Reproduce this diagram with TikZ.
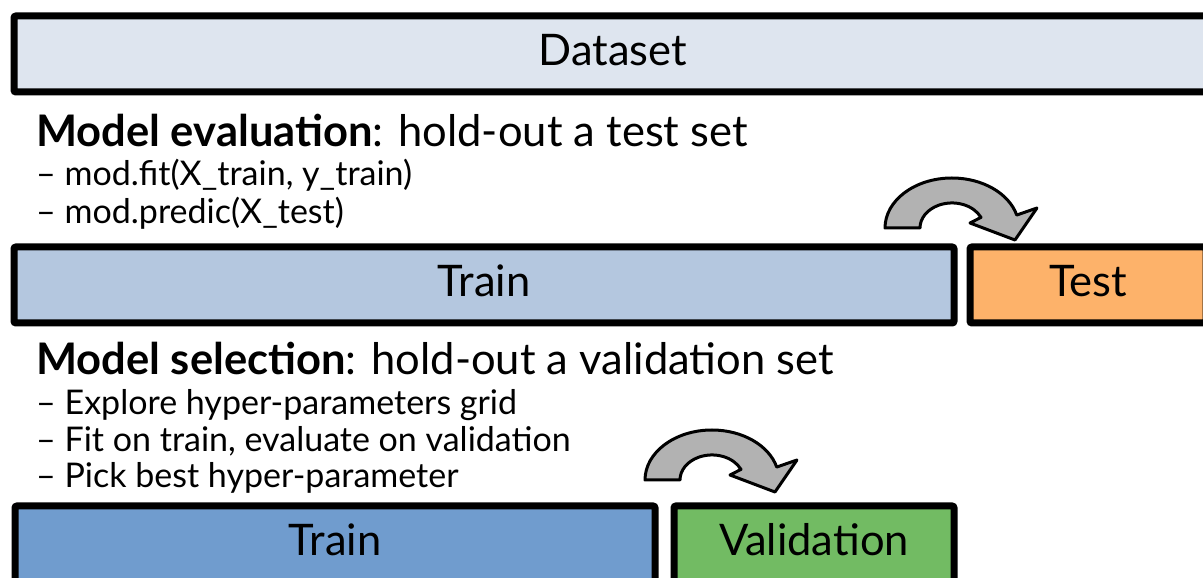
\documentclass[tikz,border=0pt]{standalone}
\usepackage{fontspec}
\setmainfont{Lato}
\definecolor{datafill}{HTML}{DEE5EF}
\definecolor{trainfill}{HTML}{B4C7DF}
\definecolor{testfill}{HTML}{FDB26A}
\definecolor{fitfill}{HTML}{709CCE}
\definecolor{valfill}{HTML}{72BB63}
\definecolor{hopfill}{HTML}{B2B2B2}
\begin{document}
\begin{tikzpicture}[x=1pt,y=1pt,
  part/.style={draw=black,line width=7pt,rounded corners=2pt,minimum height=76pt,inner sep=0pt,
    text height=31pt,text depth=8pt,font=\fontsize{43.5}{43.5}\selectfont},
  head/.style={anchor=base west,inner sep=0pt,font=\fontsize{43.5}{43.5}\selectfont},
  item/.style={anchor=base west,inner sep=0pt,font=\fontsize{34}{34}\selectfont},
  hop/.style={draw=black,line width=3pt,fill=hopfill,line join=round}]
\useasboundingbox (0,0) rectangle (1203,578);
\clip (0,0) rectangle (1203,578);
% whole dataset
\node[part,fill=datafill,minimum width=1198pt] (data) at (613,524) {Dataset};
% model evaluation
\node[head] (evalhead) at (36,431) {\textbf{Model evaluation}: hold-out a test set};
\node[item] (evalfit) at (36,392) {-- mod.fit(X\_train, y\_train)};
\node[item] (evalpred) at (36,354) {-- mod.predic(X\_test)};
\node[part,fill=trainfill,minimum width=940pt] (train) at (484,293) {Train};
\node[part,fill=testfill,minimum width=236pt] (test) at (1088,293) {Test};
% model selection
\node[head] (selhead) at (36,203) {\textbf{Model selection}: hold-out a validation set};
\node[item] (selgrid) at (36,163) {-- Explore hyper-parameters grid};
\node[item] (selfit) at (36,126) {-- Fit on train, evaluate on validation};
\node[item] (selpick) at (36,90) {-- Pick best hyper-parameter};
\node[part,fill=fitfill,minimum width=640pt] (subtrain) at (335,34) {Train};
\node[part,fill=valfill,minimum width=280pt] (val) at (814,34) {Validation};
% curved hold-out arrows
\foreach \dx/\dy in {0/0,-240/-252} {
  \draw[hop,shift={(\dx,\dy)}] (885,350) arc[start angle=180,end angle=15,x radius=67,y radius=50]
    -- (1037,370) -- (1015,338) -- (970,355) -- (981,360.6)
    arc[start angle=25,end angle=180,x radius=32,y radius=25] -- cycle;
}
\end{tikzpicture}
\end{document}
